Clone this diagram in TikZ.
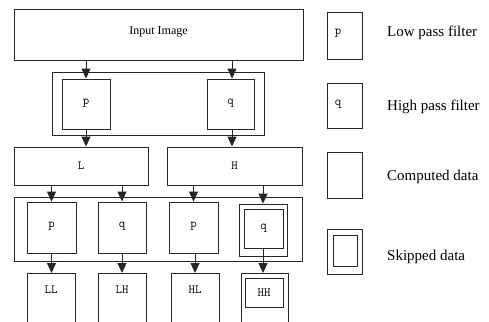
\documentclass[tikz,border=0pt]{standalone}
\usepackage{fontspec}
\setmainfont{Liberation Serif}
\usetikzlibrary{arrows.meta}
\begin{document}
\begin{tikzpicture}[x=1pt,y=-1pt,
  box/.style={draw=black!85,line width=0.9pt,inner sep=0pt,fill=white},
  arr/.style={draw=black!85,line width=0.9pt,-{Triangle[length=10pt,width=9pt]}},
  mono/.style={font=\fontsize{12.5}{13}\selectfont\ttfamily},
  leg/.style={font=\fontsize{15}{16}\selectfont,anchor=west,inner sep=0pt}]
\useasboundingbox (0,0) rectangle (489,321);
\clip (0,0) rectangle (489,321);
% top input
\node[box,minimum width=289,minimum height=51,font=\fontsize{12}{13}\selectfont] (in) at (158.5,34.5) {\raisebox{7pt}{Input Image}};
% first filter stage
\node[box,minimum width=212,minimum height=63] (c1) at (158,103.5) {};
\node[box,minimum width=48,minimum height=50,mono] (p0) at (86,104) {\raisebox{4pt}{p}};
\node[box,minimum width=47,minimum height=50,mono] (q0) at (230.5,104) {\raisebox{4pt}{q}};
% L, H
\node[box,minimum width=134,minimum height=38,mono] (L) at (81,166) {L};
\node[box,minimum width=135,minimum height=38,mono] (H) at (234.5,166) {H};
% second filter stage
\node[box,minimum width=288,minimum height=64] (c2) at (158,229) {};
\node[box,minimum width=49,minimum height=51,mono] (p1) at (51.5,227.5) {\raisebox{4.5pt}{p}};
\node[box,minimum width=48,minimum height=51,mono] (q1) at (122,227.5) {\raisebox{4.5pt}{q}};
\node[box,minimum width=49,minimum height=51,mono] (p2) at (193.5,227.5) {\raisebox{4.5pt}{p}};
\node[box,minimum width=48,minimum height=52] (q2o) at (263,230) {};
\node[box,minimum width=39,minimum height=39,mono] (q2) at (263.5,228.5) {q};
% outputs
\node[box,minimum width=48,minimum height=70,anchor=north] (LL) at (51,273) {};
\node[box,minimum width=48,minimum height=70,anchor=north] (LH) at (122,273) {};
\node[box,minimum width=48,minimum height=70,anchor=north] (HL) at (195,273) {};
\node[box,minimum width=47,minimum height=70,anchor=north] (HHo) at (264.5,273) {};
\node[box,minimum width=38,minimum height=29,mono] (HH) at (264,292.5) {HH};
\node[mono,inner sep=0pt] (tLL) at (51,290) {LL};
\node[mono,inner sep=0pt] (tLH) at (122,290) {LH};
\node[mono,inner sep=0pt] (tHL) at (195,290) {HL};
% arrows
\coordinate (qa) at (232,0);
\draw[arr] (p0.north |- in.south) -- (p0.north);
\draw[arr] (qa |- in.south) -- (qa |- q0.north);
\draw[arr] (p0.south) -- (p0.south |- L.north);
\draw[arr] (qa |- q0.south) -- (qa |- H.north);
\draw[arr] (L.south -| p1.north) -- (p1.north);
\draw[arr] (L.south -| q1.north) -- (q1.north);
\draw[arr] (H.south -| p2.north) -- (p2.north);
\draw[arr] (H.south -| q2o.north) -- (q2o.north);
\draw[arr] (p1.south) -- (p1.south |- LL.north);
\draw[arr] (q1.south) -- (q1.south |- LH.north);
\draw[arr] (p2.south -| HL.north) -- (HL.north);
\draw[arr] (q2.south -| q2o.north) -- (q2o.north |- HHo.north);
% legend
\node[box,minimum width=35,minimum height=47] (lp) at (344.5,35.5) {};
\node[mono,inner sep=0pt] (lpt) at (338,33) {p};
\node[leg] (lpl) at (387,33) {Low pass filter};
\node[box,minimum width=35,minimum height=45] (lq) at (344.5,105.5) {};
\node[mono,inner sep=0pt] (lqt) at (338,104) {q};
\node[leg] (lql) at (387,107) {High pass filter};
\node[box,minimum width=35,minimum height=46] (lc) at (344.5,175) {};
\node[leg] (lcl) at (387,177) {Computed data};
\node[box,minimum width=35,minimum height=45] (ls) at (344.5,251.5) {};
\node[box,minimum width=24,minimum height=31] (lsi) at (345,250.5) {};
\node[leg] (lsl) at (387,257) {Skipped data};
\end{tikzpicture}
\end{document}
